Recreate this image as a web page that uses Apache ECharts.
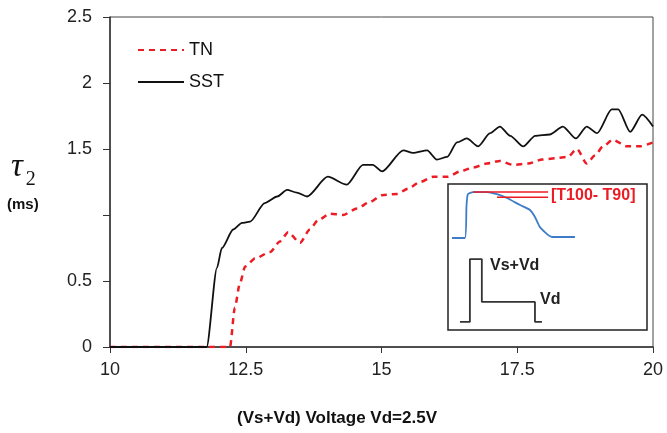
<!DOCTYPE html>
<html>
<head>
<meta charset="utf-8">
<script src="https://cdn.jsdelivr.net/npm/echarts@6/dist/echarts.min.js"></script>
<style>
    html, body { margin: 0; padding: 0; background: #fff; }
    #main { width: 667px; height: 433px; }
</style>
</head>
<body>
<div id="main"></div>
<script>
// 主图数据 (Vs+Vd 电压, tau2 ms)
var sstData = [
    [10, 0], [11.78, 0], [11.97, 0.6], [12.06, 0.75], [12.27, 0.89], [12.43, 0.94],
    [12.58, 0.95], [12.85, 1.09], [13.08, 1.14], [13.26, 1.19], [13.44, 1.17],
    [13.63, 1.14], [14.01, 1.29], [14.36, 1.23], [14.66, 1.38], [14.84, 1.38],
    [15.01, 1.33], [15.40, 1.49], [15.58, 1.47], [15.84, 1.49], [16.02, 1.42],
    [16.21, 1.44], [16.39, 1.55], [16.57, 1.58], [16.78, 1.52], [17.00, 1.62],
    [17.18, 1.67], [17.37, 1.60], [17.61, 1.52], [17.83, 1.60], [18.10, 1.61],
    [18.34, 1.67], [18.58, 1.58], [18.78, 1.67], [18.97, 1.62], [19.24, 1.80],
    [19.36, 1.80], [19.58, 1.63], [19.80, 1.76], [20.00, 1.67]
];
var tnData = [
    [10, 0], [12.21, 0], [12.30, 0.30], [12.39, 0.48], [12.49, 0.61], [12.67, 0.67],
    [12.95, 0.72], [13.13, 0.80], [13.28, 0.87], [13.50, 0.79], [13.68, 0.89],
    [13.83, 0.96], [14.05, 1.01], [14.29, 1.00], [14.55, 1.05], [14.79, 1.10],
    [15.01, 1.15], [15.29, 1.16], [15.49, 1.20], [15.71, 1.25], [15.95, 1.29],
    [16.22, 1.29], [16.45, 1.33], [16.69, 1.36], [16.94, 1.39], [17.18, 1.41],
    [17.42, 1.38], [17.70, 1.39], [17.96, 1.42], [18.20, 1.43], [18.43, 1.44],
    [18.60, 1.50], [18.78, 1.39], [18.93, 1.45], [19.08, 1.52], [19.26, 1.57],
    [19.52, 1.52], [19.76, 1.52], [20.00, 1.55]
];
var hiddenYLabels = [1];

// 小图: 光响应 / 驱动波形 (任意单位 0-100)
var responseCurve = [
    [2, 63], [8.5, 63], [9.3, 85], [10, 93], [12.6, 94.5], [19.6, 94.5], [24.6, 93],
    [29.6, 90.4], [36.2, 85.6], [41.2, 82.2], [43.7, 77.4], [46.2, 70.5],
    [52.3, 63.7], [63.8, 63.7]
];
var t100Line = [[12.6, 94.5], [50.3, 94.5]];
var t90Line = [[24.6, 91], [50.3, 91]];
var drivePulse = [
    [6, 5.5], [11, 5.5], [11, 48.6], [17, 48.6], [17, 19.2], [43.7, 19.2],
    [43.7, 5.5], [47.2, 5.5]
];

var myChart = echarts.init(document.getElementById('main'));

var option = {
    backgroundColor: '#fff',
    animation: false,
    textStyle: { fontFamily: 'Liberation Sans, Arial, sans-serif' },
    grid: [
        {
            left: 110, right: 14, top: 17, bottom: 86,
            show: true, borderColor: '#444', borderWidth: 1,
            outerBoundsMode: 'none'
        },
        {
            left: 448, top: 184, width: 199, height: 146,
            show: true, backgroundColor: '#fff', borderColor: '#222', borderWidth: 1.5,
            outerBoundsMode: 'none'
        }
    ],
    legend: {
        orient: 'vertical',
        left: 137,
        top: 41,
        padding: 0,
        itemWidth: 46,
        itemHeight: 12,
        itemGap: 14,
        itemStyle: { opacity: 0 },
        textStyle: { fontSize: 18, color: '#111' },
        data: ['TN', 'SST']
    },
    xAxis: [
        {
            gridIndex: 0,
            type: 'value',
            min: 10, max: 20, interval: 2.5,
            axisLine: { lineStyle: { color: '#333', width: 1.5 } },
            axisTick: { length: 6, lineStyle: { color: '#333' } },
            axisLabel: { fontSize: 18, color: '#222', margin: 14 },
            splitLine: { show: false }
        },
        { gridIndex: 1, type: 'value', min: 0, max: 100, show: false }
    ],
    yAxis: [
        {
            gridIndex: 0,
            type: 'value',
            min: 0, max: 2.5, interval: 0.5,
            axisLine: { show: true, lineStyle: { color: '#333', width: 1.5 } },
            axisTick: { show: true, length: 7, lineStyle: { color: '#333' } },
            axisLabel: {
                fontSize: 18, color: '#222', margin: 18,
                formatter: function (v) {
                    return hiddenYLabels.indexOf(v) >= 0 ? '' : String(v);
                }
            },
            splitLine: { show: false }
        },
        { gridIndex: 1, type: 'value', min: 0, max: 100, show: false }
    ],
    series: [
        {
            name: 'TN', type: 'line', data: tnData, symbol: 'none', z: 2,
            smooth: 0.25, smoothMonotone: 'x',
            itemStyle: { color: '#ec1c24' },
            lineStyle: { color: '#ec1c24', width: 2.5, type: [6, 5] }
        },
        {
            name: 'SST', type: 'line', data: sstData, symbol: 'none', z: 3,
            smooth: 0.25, smoothMonotone: 'x',
            itemStyle: { color: '#111' },
            lineStyle: { color: '#111', width: 1.8 }
        },
        {
            type: 'line', xAxisIndex: 1, yAxisIndex: 1, data: responseCurve, symbol: 'none',
            smooth: 0.2, lineStyle: { color: '#3d7cc9', width: 1.8 }
        },
        {
            type: 'line', xAxisIndex: 1, yAxisIndex: 1, data: t100Line, symbol: 'none',
            lineStyle: { color: '#ec1c24', width: 1.5 }
        },
        {
            type: 'line', xAxisIndex: 1, yAxisIndex: 1, data: t90Line, symbol: 'none',
            lineStyle: { color: '#ec1c24', width: 1.5 }
        },
        {
            type: 'line', xAxisIndex: 1, yAxisIndex: 1, data: drivePulse, symbol: 'none',
            lineStyle: { color: '#333', width: 1.8 }
        }
    ],
    graphic: [
        {
            type: 'text', left: 11, top: 151,
            style: {
                text: '{t|τ}{s|2}',
                rich: {
                    t: { fontFamily: 'Liberation Serif, DejaVu Serif, serif', fontStyle: 'italic', fontSize: 33, fill: '#111' },
                    s: { fontFamily: 'Liberation Serif, DejaVu Serif, serif', fontSize: 20, fill: '#111', padding: [24, 0, 0, 3] }
                }
            }
        },
        {
            type: 'text', left: 7, top: 197,
            style: { text: '(ms)', fontSize: 15, fontWeight: 'bold', fill: '#111', fontFamily: 'Liberation Sans, Arial, sans-serif' }
        },
        {
            type: 'text', left: 237, top: 410,
            style: { text: '(Vs+Vd) Voltage Vd=2.5V', fontSize: 17, fontWeight: 'bold', fill: '#111', fontFamily: 'Liberation Sans, Arial, sans-serif' }
        },
        {
            type: 'text', left: 551, top: 188, z: 10,
            style: { text: '[T100- T90]', fontSize: 16, fontWeight: 'bold', fill: '#ec1c24', fontFamily: 'Liberation Sans, Arial, sans-serif' }
        },
        {
            type: 'text', left: 490, top: 258, z: 10,
            style: { text: 'Vs+Vd', fontSize: 16, fontWeight: 'bold', fill: '#222', fontFamily: 'Liberation Sans, Arial, sans-serif' }
        },
        {
            type: 'text', left: 540, top: 292, z: 10,
            style: { text: 'Vd', fontSize: 16, fontWeight: 'bold', fill: '#222', fontFamily: 'Liberation Sans, Arial, sans-serif' }
        }
    ]
};

myChart.setOption(option);
</script>
</body>
</html>
